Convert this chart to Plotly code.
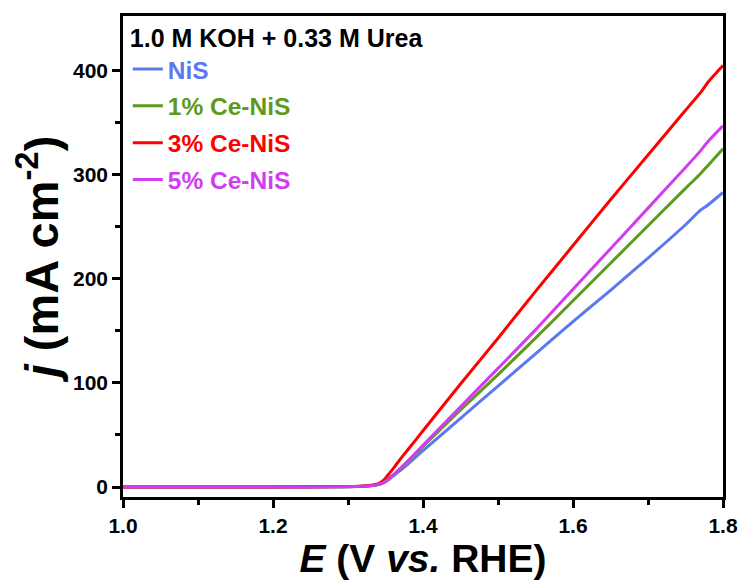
import plotly.graph_objects as go

E = [1.0, 1.1, 1.2, 1.3, 1.32, 1.33, 1.34, 1.345, 1.35, 1.355, 1.36, 1.37, 1.38, 1.4, 1.45, 1.5, 1.55, 1.6, 1.65, 1.7, 1.75, 1.77, 1.78, 1.8]

j_nis = [0, 0, 0, 0.3, 0.7, 1.2, 2.2, 3.2, 5, 7.5, 10.5, 16, 22, 35, 66, 97, 128, 159, 189, 220, 252, 266, 271, 283]
j_ce1 = [0, 0, 0, 0.3, 0.7, 1.2, 2.3, 3.4, 5.5, 8.5, 11.5, 18, 25, 39, 74, 108, 143, 179, 215, 251, 287, 301, 309, 325]
j_ce3 = [0, 0, 0, 0.4, 0.9, 1.6, 3.0, 5, 8.5, 13, 17.5, 27, 36, 54, 99, 143, 188, 232, 276, 319, 362, 379, 389, 405]
j_ce5 = [0, 0, 0, 0.3, 0.7, 1.2, 2.3, 3.4, 5.5, 8.5, 11.5, 18, 25, 40, 77, 114, 151, 190, 229, 268, 307, 323, 332, 347]

names = ["NiS", "1% Ce-NiS", "3% Ce-NiS", "5% Ce-NiS"]
colors = ["#5b78f0", "#5d9a1a", "#ff0000", "#d23cf0"]
series = [j_nis, j_ce1, j_ce3, j_ce5]

fig = go.Figure()
for name, col, ys in zip(names, colors, series):
    fig.add_trace(go.Scatter(
        x=E, y=ys, mode="lines", name=f"<b><span style='color:{col}'>{name}</span></b>",
        legendgroup=name,
        line=dict(color=col, width=3, shape="spline", smoothing=0.6)))

font_main = "Liberation Sans, Arial"
fig.update_layout(
    width=739, height=578,
    margin=dict(l=115, r=24, t=6, b=89),
    plot_bgcolor="white", paper_bgcolor="white",
    font=dict(family=font_main, color="black"),
    showlegend=True,
    legend=dict(
        x=0.008, y=1.004, xanchor="left", yanchor="top",
        bgcolor="rgba(0,0,0,0)",
        font=dict(family=font_main, size=24.5),
        title=dict(text="<b>1.0 M KOH + 0.33 M Urea</b>", font=dict(family=font_main, size=25, color="black")),
        tracegroupgap=2, itemwidth=30,
    ),
)
fig.update_xaxes(
    range=[1.0, 1.8], tickvals=[1.0, 1.2, 1.4, 1.6, 1.8], ticktext=["<b>1.0</b>", "<b>1.2</b>", "<b>1.4</b>", "<b>1.6</b>", "<b>1.8</b>"],
    ticks="outside", ticklen=8, tickwidth=2.5, tickcolor="black",
    minor=dict(tickvals=[1.1, 1.3, 1.5, 1.7], ticks="outside", ticklen=5, tickwidth=2.5, tickcolor="black"),
    showline=True, linewidth=2.5, linecolor="black", mirror=True,
    showgrid=False, zeroline=False,
    tickfont=dict(size=21, family=font_main),
    title=dict(text="<b><i>E</i> (V <i>vs.</i> RHE)</b>", font=dict(size=39, family=font_main), standoff=5),
)
fig.update_yaxes(
    range=[-9.6, 452.6], tickvals=[0, 100, 200, 300, 400], ticktext=["<b>0</b>", "<b>100</b>", "<b>200</b>", "<b>300</b>", "<b>400</b>"],
    ticks="outside", ticklen=8, tickwidth=2.5, tickcolor="black",
    minor=dict(tickvals=[50, 150, 250, 350], ticks="outside", ticklen=5, tickwidth=2.5, tickcolor="black"),
    showline=True, linewidth=2.5, linecolor="black", mirror=True,
    showgrid=False, zeroline=False,
    tickfont=dict(size=21, family=font_main),
    title=dict(text="<b><i>j</i> (mA cm<sup>-2</sup>)</b>", font=dict(size=47, family=font_main), standoff=0),
)
fig.write_html("out.html")
